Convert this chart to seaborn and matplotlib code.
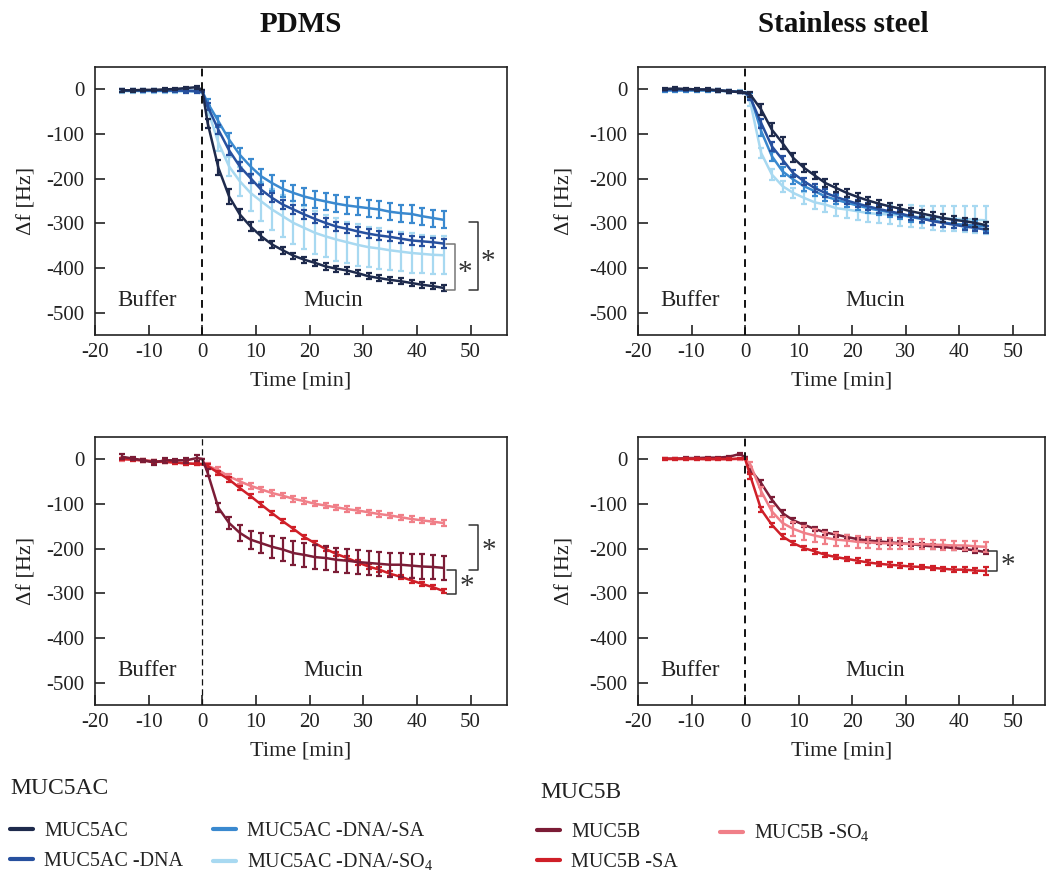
import numpy as np
import pandas as pd
import matplotlib
matplotlib.use("Agg")
import matplotlib.pyplot as plt
import seaborn as sns
from matplotlib.lines import Line2D

sns.set_theme(style="white")
plt.rcParams['font.family'] = ['Liberation Serif', 'DejaVu Serif']
plt.rcParams['mathtext.fontset'] = 'custom'
plt.rcParams['mathtext.rm'] = 'Liberation Serif'
plt.rcParams['axes.unicode_minus'] = False

# ---------------- data ----------------
time = [-15, -13, -11, -9, -7, -5, -3, -1, 0, 1, 3, 5, 7, 9, 11, 13, 15, 17, 19, 21,
        23, 25, 27, 29, 31, 33, 35, 37, 39, 41, 43, 45]

# PDMS, MUC5AC variants
pd_ac = [-3, -3, -2, -2, -1, 0, 2, 4, -2, -76, -176, -240, -280, -307, -329, -347, -360, -372,
         -381, -388, -396, -401, -405, -411, -418, -422, -426, -429, -433, -437, -440, -444]
pd_ac_err = [3, 3, 3, 3, 3, 3, 3, 3, 0, 10, 17, 17, 12, 10, 9, 8, 8, 7, 7, 7, 7, 7, 7, 7,
             7, 7, 7, 7, 7, 7, 7, 7]
pd_dna = [-3, -3, -3, -3, -3, -3, -4, -5, -6, -39, -91, -137, -173, -199, -225, -243, -258, -269,
          -280, -290, -299, -307, -312, -318, -323, -327, -330, -334, -338, -340, -342, -345]
pd_dna_err = [3, 3, 3, 3, 3, 3, 4, 4, 0, 8, 10, 10, 10, 10, 10, 10, 10, 10, 10, 10, 10, 10, 10,
              10, 10, 10, 10, 10, 10, 10, 10, 10]
pd_dnasa = [-4, -4, -4, -4, -4, -4, -4, -4, -5, -31, -72, -113, -147, -173, -195, -210, -223, -232,
            -240, -246, -251, -256, -260, -263, -266, -269, -274, -277, -279, -284, -288, -292]
pd_dnasa_err = [3, 3, 3, 3, 3, 3, 3, 3, 0, 8, 12, 14, 16, 17, 17, 18, 18, 18, 18, 19, 19, 19, 19,
                19, 19, 19, 19, 19, 19, 19, 19, 19]
pd_dnaso = [-5, -5, -5, -5, -5, -5, -6, -6, -8, -46, -120, -173, -206, -232, -251, -269, -284, -299,
            -310, -321, -329, -336, -342, -348, -353, -356, -360, -363, -366, -368, -370, -371]
pd_dnaso_err = [3, 3, 3, 3, 3, 3, 3, 3, 0, 12, 18, 22, 32, 40, 44, 46, 47, 48, 48, 48, 47, 47, 46,
                46, 45, 45, 44, 44, 44, 43, 43, 43]

# Stainless steel, MUC5AC variants
ss_ac = [0, 1, 0, -1, -1, -3, -5, -7, -8, -13, -46, -91, -121, -154, -176, -193, -210, -221,
         -232, -241, -249, -256, -262, -267, -273, -278, -283, -288, -292, -295, -299, -304]
ss_ac_err = [3, 3, 3, 3, 3, 3, 3, 3, 0, 6, 12, 15, 14, 10, 9, 8, 8, 8, 8, 8, 8, 8, 8, 8, 8, 8,
             8, 8, 8, 8, 8, 8]
ss_dna = [-2, -2, -2, -2, -2, -3, -5, -7, -8, -20, -76, -128, -158, -188, -206, -221, -232, -241,
          -249, -256, -262, -268, -273, -278, -284, -289, -295, -299, -303, -307, -310, -314]
ss_dna_err = [3, 3, 3, 3, 3, 3, 3, 3, 0, 5, 10, 10, 9, 8, 8, 8, 8, 8, 8, 8, 8, 8, 8, 8, 8, 8,
              8, 8, 8, 8, 8, 8]
ss_dnasa = [-3, -3, -3, -3, -3, -4, -5, -7, -8, -16, -94, -150, -184, -202, -217, -228, -240, -247,
            -254, -260, -266, -271, -275, -280, -286, -290, -293, -298, -301, -303, -305, -307]
ss_dnasa_err = [3, 3, 3, 3, 3, 3, 3, 3, 0, 6, 10, 10, 10, 10, 10, 10, 10, 10, 10, 10, 10, 10, 10,
                10, 10, 10, 10, 10, 10, 10, 10, 10]
ss_dnaso = [-4, -4, -4, -4, -4, -4, -5, -6, -7, -31, -143, -191, -217, -232, -243, -253, -258, -266,
            -269, -273, -277, -279, -280, -283, -284, -286, -288, -289, -290, -290, -292, -293]
ss_dnaso_err = [3, 3, 3, 3, 3, 3, 3, 3, 0, 8, 12, 12, 12, 12, 14, 15, 16, 17, 18, 19, 20, 21, 22,
                23, 24, 25, 26, 27, 28, 29, 30, 31]

# PDMS, MUC5B variants
pd_b = [5, 1, -3, -8, -3, -3, -3, 2, 0, -31, -109, -143, -165, -180, -188, -196, -202, -210,
        -214, -219, -221, -225, -227, -230, -232, -234, -236, -236, -238, -240, -241, -243]
pd_b_err = [6, 4, 4, 5, 5, 4, 6, 7, 0, 8, 10, 14, 18, 20, 22, 24, 25, 26, 26, 27, 27, 27, 27,
            27, 27, 27, 27, 27, 27, 27, 27, 27]
pd_bsa = [0, -1, -3, -5, -6, -8, -10, -11, -12, -16, -31, -46, -65, -83, -102, -121, -139, -156,
          -174, -188, -201, -212, -221, -231, -240, -247, -256, -263, -271, -279, -286, -295]
pd_bsa_err = [3, 3, 3, 3, 3, 3, 3, 3, 0, 4, 5, 5, 5, 5, 5, 5, 5, 5, 5, 5, 5, 5, 5, 5, 5, 5, 5,
              5, 5, 5, 5, 5]
pd_bso = [-1, -2, -4, -6, -7, -8, -10, -11, -12, -15, -25, -39, -50, -60, -68, -76, -82, -89,
          -94, -100, -104, -108, -112, -115, -119, -123, -126, -130, -134, -137, -140, -143]
pd_bso_err = [3, 3, 3, 3, 3, 3, 3, 3, 0, 5, 6, 6, 6, 6, 6, 6, 6, 6, 6, 6, 6, 6, 6, 6, 6, 6, 6,
              6, 6, 6, 6, 6]

# Stainless steel, MUC5B variants
ss_b = [1, 1, 2, 2, 3, 3, 5, 11, 4, -24, -54, -91, -121, -137, -147, -156, -164, -169,
        -174, -179, -182, -184, -186, -188, -190, -193, -195, -196, -199, -201, -204, -208]
ss_b_err = [2, 2, 2, 2, 2, 2, 2, 3, 0, 5, 6, 6, 6, 5, 5, 5, 5, 5, 5, 5, 5, 5, 5, 5, 5, 5, 5,
            5, 5, 5, 5, 5]
ss_bsa = [0, 0, 0, 0, 0, 0, 0, 1, 0, -39, -113, -147, -173, -188, -199, -206, -214, -219,
          -223, -227, -231, -234, -236, -238, -240, -241, -243, -245, -247, -247, -249, -250]
ss_bsa_err = [2, 2, 2, 2, 2, 2, 2, 2, 0, 5, 5, 5, 5, 5, 5, 5, 5, 5, 5, 5, 5, 5, 5, 5, 5, 5, 5,
              5, 5, 5, 5, 8]
ss_bso = [0, 0, 0, 0, -1, -1, -1, 0, 0, -13, -72, -117, -143, -156, -165, -171, -176, -180,
          -182, -185, -186, -188, -188, -189, -190, -190, -191, -192, -193, -193, -195, -196]
ss_bso_err = [2, 2, 2, 2, 2, 2, 2, 2, 0, 6, 10, 12, 14, 15, 15, 15, 14, 14, 13, 13, 12, 12, 12,
              12, 11, 11, 11, 11, 11, 11, 11, 11]

ac_labels = ["MUC5AC", "MUC5AC -DNA", "MUC5AC -DNA/-SA", "MUC5AC -DNA/-SO$_4$"]
b_labels = ["MUC5B", "MUC5B -SA", "MUC5B -SO$_4$"]
ac_colors = ["#1e2a4c", "#27509e", "#3a89cf", "#a8d9f1"]
b_colors = ["#7b1c36", "#cf1f28", "#f07f88"]

x_ticks = [-20, -10, 0, 10, 20, 30, 40, 50]
y_ticks = [0, -100, -200, -300, -400, -500]

# ---------------- figure ----------------
W, H = 1046, 874
fig = plt.figure(figsize=(W / 100, H / 100), dpi=100)

def px_axes(l, t, r, b):
    return fig.add_axes([l / W, 1 - b / H, (r - l) / W, (b - t) / H])

ax_tl = px_axes(95, 67, 507, 335)
ax_tr = px_axes(638, 67, 1045, 335)
ax_bl = px_axes(95, 437, 507, 705)
ax_br = px_axes(638, 437, 1045, 705)

def draw(ax, series, errs, colors, zorders):
    for y, e, c, z in zip(series, errs, colors, zorders):
        df = pd.DataFrame({"t": time, "v": y})
        sns.lineplot(data=df, x="t", y="v", ax=ax, color=c, lw=1.8, zorder=z,
                     legend=False, errorbar=None)
        ax.errorbar(time, y, yerr=e, fmt="none", ecolor=c, elinewidth=1.6,
                    capsize=2.2, capthick=1.6, zorder=z)

def style(ax, xmax, dash_lw, ylab_x):
    ax.set_xlim(-20, xmax)
    ax.set_ylim(-549, 49)
    ax.set_xticks(x_ticks)
    ax.set_xticklabels([str(v) for v in x_ticks])
    ax.set_yticks(y_ticks)
    ax.set_yticklabels([str(v) for v in y_ticks])
    ax.tick_params(direction="in", length=7, width=1.2, labelsize=15, colors="#222222",
                   left=True, bottom=True)
    ax.tick_params(axis="y", pad=7.5)
    ax.tick_params(axis="x", pad=6)
    for sp in ax.spines.values():
        sp.set_visible(True)
        sp.set_color("#222222")
        sp.set_linewidth(1.2)
    ax.axvline(0, color="#111111", lw=dash_lw, ls=(0, (4, 3)) if dash_lw > 1.2 else (0, (5, 3)),
               zorder=5)
    ax.set_xlabel("Time [min]", fontsize=16, color="#222222")
    ax.set_ylabel("Δf [Hz]", fontsize=16, color="#222222")
    ax.xaxis.set_label_coords(0.5, -0.135)
    ax.yaxis.set_label_coords(ylab_x, 0.5)
    ax.text(-10.3, -471, "Buffer", fontsize=16.5, ha="center", va="center", color="#222222")
    ax.text(24.3, -471, "Mucin", fontsize=16.5, ha="center", va="center", color="#222222")
    ax.grid(False)

draw(ax_tl, [pd_dnaso, pd_dnasa, pd_dna, pd_ac],
     [pd_dnaso_err, pd_dnasa_err, pd_dna_err, pd_ac_err],
     ac_colors[::-1], [2, 3, 4, 5])
draw(ax_tr, [ss_dnaso, ss_dnasa, ss_dna, ss_ac],
     [ss_dnaso_err, ss_dnasa_err, ss_dna_err, ss_ac_err],
     ac_colors[::-1], [2, 3, 4, 5])
draw(ax_bl, [pd_bso, pd_bsa, pd_b], [pd_bso_err, pd_bsa_err, pd_b_err],
     b_colors[::-1], [2, 3, 4])
draw(ax_br, [ss_bso, ss_b, ss_bsa], [ss_bso_err, ss_b_err, ss_bsa_err],
     [b_colors[2], b_colors[0], b_colors[1]], [3, 2, 4])

style(ax_tl, 56.8, 1.4, -0.141)
style(ax_tr, 56.0, 1.4, -0.155)
style(ax_bl, 56.8, 0.9, -0.141)
style(ax_br, 56.0, 1.4, -0.155)

# significance brackets
def bracket(ax, x, y1, y2, xs, ys, color="#444444"):
    ax.plot([x - 1.6, x, x, x - 1.6], [y1, y1, y2, y2], color=color, lw=1.1,
            clip_on=False, zorder=6)
    ax.text(xs, ys, "*", fontsize=21, ha="center", va="center", color="#333333")

bracket(ax_tl, 47.1, -347, -448, 49.0, -410, color="#777777")
bracket(ax_tl, 51.4, -297, -449, 53.2, -385, color="#333333")
bracket(ax_bl, 47.3, -247, -301, 49.3, -285, color="#333333")
bracket(ax_bl, 51.4, -147, -247, 53.5, -205, color="#333333")
bracket(ax_br, 47.0, -206, -251, 49.0, -238, color="#333333")

# titles
fig.text(301 / W, 1 - 25 / H, "PDMS", fontsize=21, fontweight="bold", ha="center",
         va="center", color="#111111")
fig.text(843 / W, 1 - 25 / H, "Stainless steel", fontsize=21, fontweight="bold",
         ha="center", va="center", color="#111111")

# legends
fig.text(10 / W, 1 - 788 / H, "MUC5AC", fontsize=17, ha="left", va="center", color="#222222")
fig.text(540 / W, 1 - 792 / H, "MUC5B", fontsize=17, ha="left", va="center", color="#222222")

ac_handles = [Line2D([], [], color=c, lw=3) for c in ac_colors]
b_handles = [Line2D([], [], color=c, lw=3) for c in b_colors]

leg_kw = dict(loc="upper left", ncol=1, frameon=False, fontsize=14.5, handlelength=1.15,
              handletextpad=0.55, labelspacing=0.55, borderpad=0, borderaxespad=0,
              labelcolor="#222222")
cols = [
    (ac_handles[:2], ac_labels[:2], 10, 822),
    (ac_handles[2:], ac_labels[2:], 213, 822),
    (b_handles[:2], b_labels[:2], 537, 823),
    (b_handles[2:], b_labels[2:], 720, 823),
]
for hs, ls, xp, yp in cols:
    lg = fig.legend(hs, ls, bbox_to_anchor=(xp / W, 1 - yp / H), **leg_kw)

fig.savefig("out.png", dpi=100, facecolor="white")
